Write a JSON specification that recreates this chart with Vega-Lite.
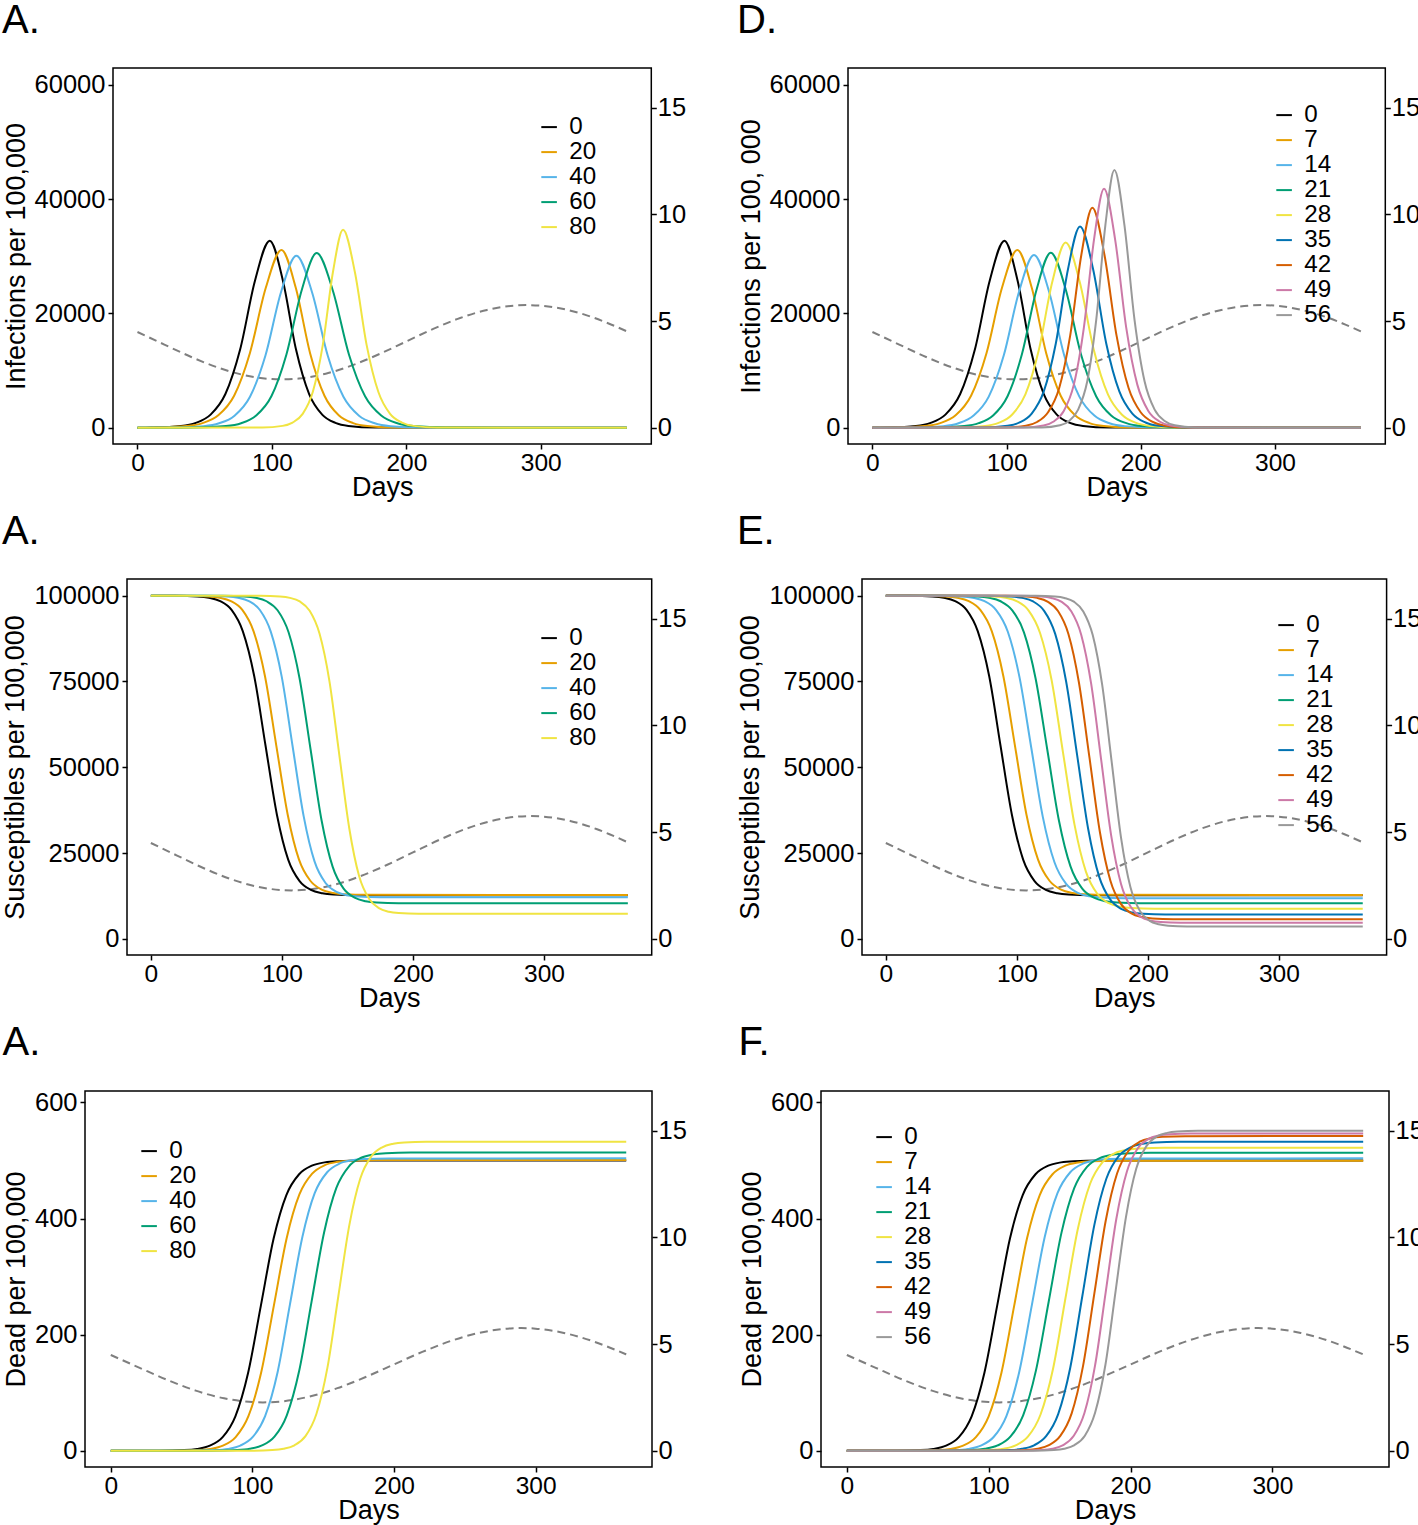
{
"$schema":"https://vega.github.io/schema/vega-lite/v6.json",
"background":"white",
"padding":{"left":0,"top":0,"right":0,"bottom":0},
"config":{
 "font":"Liberation Sans",
 "view":{"stroke":"black","strokeWidth":1.5},
 "axis":{"grid":false,"domain":false,"tickColor":"black","tickWidth":1.5,"tickSize":5,"labelColor":"black","titleFontSize":27,"titleFontWeight":"normal","titleColor":"black"},
 "axisX":{"labelFontSize":24.5,"labelPadding":2,"titlePadding":0},
 "axisLeft":{"labelFontSize":25.5,"labelPadding":3,"titlePadding":4},
 "axisRight":{"labelFontSize":25.5,"labelPadding":1},
 "legend":{"symbolType":"stroke","symbolStrokeWidth":2,"symbolSize":243,"labelFontSize":24.2,"labelColor":"black","labelOffset":8,"rowPadding":0,"padding":0,"title":null},
 "title":{"fontSize":40,"fontWeight":"normal","anchor":"start","frame":"bounds","color":"black","offset":27}
},
"datasets":{
"T":[{"d":0,"t":4.49},{"d":20,"t":3.90},{"d":40,"t":3.32},{"d":60,"t":2.82},{"d":80,"t":2.46},{"d":100,"t":2.284},{"d":107.5,"t":2.27},{"d":120,"t":2.31},{"d":140,"t":2.536},{"d":160,"t":2.935},{"d":180,"t":3.458},{"d":200,"t":4.047},{"d":220,"t":4.633},{"d":240,"t":5.145},{"d":260,"t":5.523},{"d":280,"t":5.724},{"d":290,"t":5.75},{"d":300,"t":5.724},{"d":320,"t":5.523},{"d":340,"t":5.145},{"d":350,"t":4.90},{"d":364,"t":4.519}],
"S":[{"x":0}],
"A":[
{"s":"0","d":0,"v":0},{"s":"0","d":10.4,"v":44},{"s":"0","d":32.4,"v":324},{"s":"0","d":43.4,"v":870},{"s":"0","d":54.4,"v":2313},{"s":"0","d":65.4,"v":5912},{"s":"0","d":76.4,"v":13742},{"s":"0","d":87.4,"v":25731},{"s":"0","d":98.4,"v":32720},{"s":"0","d":108.2,"v":25731},{"s":"0","d":117.9,"v":13742},{"s":"0","d":127.7,"v":5912},{"s":"0","d":137.4,"v":2313},{"s":"0","d":147.2,"v":870},{"s":"0","d":156.9,"v":324},{"s":"0","d":176.4,"v":44},{"s":"0","d":364,"v":0},
{"s":"20","d":0,"v":0},{"s":"20","d":13.1,"v":40},{"s":"20","d":36.6,"v":308},{"s":"20","d":48.4,"v":827},{"s":"20","d":60.1,"v":2198},{"s":"20","d":71.9,"v":5618},{"s":"20","d":83.6,"v":13058},{"s":"20","d":95.4,"v":24449},{"s":"20","d":107.1,"v":31090},{"s":"20","d":117.8,"v":24449},{"s":"20","d":128.4,"v":13058},{"s":"20","d":139.1,"v":5618},{"s":"20","d":149.7,"v":2198},{"s":"20","d":160.4,"v":827},{"s":"20","d":171.0,"v":308},{"s":"20","d":192.3,"v":40},{"s":"20","d":364,"v":0},
{"s":"40","d":0,"v":0},{"s":"40","d":26.2,"v":39},{"s":"40","d":49.2,"v":298},{"s":"40","d":60.7,"v":801},{"s":"40","d":72.2,"v":2128},{"s":"40","d":83.7,"v":5439},{"s":"40","d":95.2,"v":12642},{"s":"40","d":106.7,"v":23671},{"s":"40","d":118.2,"v":30100},{"s":"40","d":129.9,"v":23671},{"s":"40","d":141.5,"v":12642},{"s":"40","d":153.2,"v":5439},{"s":"40","d":164.8,"v":2128},{"s":"40","d":176.5,"v":801},{"s":"40","d":188.1,"v":298},{"s":"40","d":211.4,"v":39},{"s":"40","d":364,"v":0},
{"s":"60","d":0,"v":0},{"s":"60","d":43.3,"v":40},{"s":"60","d":65.8,"v":303},{"s":"60","d":77.1,"v":813},{"s":"60","d":88.3,"v":2161},{"s":"60","d":99.6,"v":5522},{"s":"60","d":110.8,"v":12835},{"s":"60","d":122.1,"v":24032},{"s":"60","d":133.3,"v":30560},{"s":"60","d":145.3,"v":24032},{"s":"60","d":157.3,"v":12835},{"s":"60","d":169.3,"v":5522},{"s":"60","d":181.3,"v":2161},{"s":"60","d":193.3,"v":813},{"s":"60","d":205.3,"v":303},{"s":"60","d":229.3,"v":40},{"s":"60","d":364,"v":0},
{"s":"80","d":0,"v":0},{"s":"80","d":92.9,"v":45},{"s":"80","d":107.9,"v":343},{"s":"80","d":115.4,"v":922},{"s":"80","d":122.9,"v":2450},{"s":"80","d":130.4,"v":6261},{"s":"80","d":137.9,"v":14553},{"s":"80","d":145.4,"v":27249},{"s":"80","d":152.9,"v":34650},{"s":"80","d":161.7,"v":27249},{"s":"80","d":170.4,"v":14553},{"s":"80","d":179.2,"v":6261},{"s":"80","d":187.9,"v":2450},{"s":"80","d":196.7,"v":922},{"s":"80","d":205.4,"v":343},{"s":"80","d":222.9,"v":45},{"s":"80","d":364,"v":0}
],
"D":[
{"s":"0","d":0,"v":0},{"s":"0","d":10.4,"v":44},{"s":"0","d":32.4,"v":324},{"s":"0","d":43.4,"v":870},{"s":"0","d":54.4,"v":2313},{"s":"0","d":65.4,"v":5912},{"s":"0","d":76.4,"v":13742},{"s":"0","d":87.4,"v":25731},{"s":"0","d":98.4,"v":32720},{"s":"0","d":108.2,"v":25731},{"s":"0","d":117.9,"v":13742},{"s":"0","d":127.7,"v":5912},{"s":"0","d":137.4,"v":2313},{"s":"0","d":147.2,"v":870},{"s":"0","d":156.9,"v":324},{"s":"0","d":176.4,"v":44},{"s":"0","d":364,"v":0},
{"s":"7","d":0,"v":0},{"s":"7","d":16.0,"v":40},{"s":"7","d":39.0,"v":308},{"s":"7","d":50.5,"v":827},{"s":"7","d":62.0,"v":2198},{"s":"7","d":73.5,"v":5618},{"s":"7","d":85.0,"v":13058},{"s":"7","d":96.5,"v":24449},{"s":"7","d":108.0,"v":31090},{"s":"7","d":118.8,"v":24449},{"s":"7","d":129.5,"v":13058},{"s":"7","d":140.3,"v":5618},{"s":"7","d":151.0,"v":2198},{"s":"7","d":161.8,"v":827},{"s":"7","d":172.5,"v":308},{"s":"7","d":194.0,"v":40},{"s":"7","d":364,"v":0},
{"s":"14","d":0,"v":0},{"s":"14","d":30.4,"v":39},{"s":"14","d":52.9,"v":299},{"s":"14","d":64.2,"v":804},{"s":"14","d":75.4,"v":2137},{"s":"14","d":86.7,"v":5461},{"s":"14","d":97.9,"v":12692},{"s":"14","d":109.2,"v":23765},{"s":"14","d":120.4,"v":30220},{"s":"14","d":131.7,"v":23765},{"s":"14","d":142.9,"v":12692},{"s":"14","d":154.2,"v":5461},{"s":"14","d":165.4,"v":2137},{"s":"14","d":176.7,"v":804},{"s":"14","d":187.9,"v":299},{"s":"14","d":210.4,"v":39},{"s":"14","d":364,"v":0},
{"s":"21","d":0,"v":0},{"s":"21","d":46.9,"v":40},{"s":"21","d":68.4,"v":303},{"s":"21","d":79.2,"v":815},{"s":"21","d":89.9,"v":2165},{"s":"21","d":100.7,"v":5533},{"s":"21","d":111.4,"v":12860},{"s":"21","d":122.2,"v":24080},{"s":"21","d":132.9,"v":30620},{"s":"21","d":144.2,"v":24080},{"s":"21","d":155.4,"v":12860},{"s":"21","d":166.7,"v":5533},{"s":"21","d":177.9,"v":2165},{"s":"21","d":189.2,"v":815},{"s":"21","d":200.4,"v":303},{"s":"21","d":222.9,"v":40},{"s":"21","d":364,"v":0},
{"s":"28","d":0,"v":0},{"s":"28","d":64.0,"v":42},{"s":"28","d":84.0,"v":321},{"s":"28","d":94.0,"v":863},{"s":"28","d":104.0,"v":2293},{"s":"28","d":114.0,"v":5860},{"s":"28","d":124.0,"v":13621},{"s":"28","d":134.0,"v":25503},{"s":"28","d":144.0,"v":32430},{"s":"28","d":154.5,"v":25503},{"s":"28","d":165.0,"v":13621},{"s":"28","d":175.5,"v":5860},{"s":"28","d":186.0,"v":2293},{"s":"28","d":196.5,"v":863},{"s":"28","d":207.0,"v":321},{"s":"28","d":228.0,"v":42},{"s":"28","d":364,"v":0},
{"s":"35","d":0,"v":0},{"s":"35","d":82.7,"v":46},{"s":"35","d":100.7,"v":349},{"s":"35","d":109.7,"v":937},{"s":"35","d":118.7,"v":2491},{"s":"35","d":127.7,"v":6366},{"s":"35","d":136.7,"v":14797},{"s":"35","d":145.7,"v":27705},{"s":"35","d":154.7,"v":35230},{"s":"35","d":164.5,"v":27705},{"s":"35","d":174.2,"v":14797},{"s":"35","d":184.0,"v":6366},{"s":"35","d":193.7,"v":2491},{"s":"35","d":203.5,"v":937},{"s":"35","d":213.2,"v":349},{"s":"35","d":232.7,"v":46},{"s":"35","d":364,"v":0},
{"s":"42","d":0,"v":0},{"s":"42","d":97.9,"v":50},{"s":"42","d":114.4,"v":381},{"s":"42","d":122.7,"v":1024},{"s":"42","d":130.9,"v":2722},{"s":"42","d":139.2,"v":6957},{"s":"42","d":147.4,"v":16170},{"s":"42","d":155.7,"v":30276},{"s":"42","d":163.9,"v":38500},{"s":"42","d":172.9,"v":30276},{"s":"42","d":181.9,"v":16170},{"s":"42","d":190.9,"v":6957},{"s":"42","d":199.9,"v":2722},{"s":"42","d":208.9,"v":1024},{"s":"42","d":217.9,"v":381},{"s":"42","d":235.9,"v":50},{"s":"42","d":364,"v":0},
{"s":"49","d":0,"v":0},{"s":"49","d":112.6,"v":54},{"s":"49","d":127.6,"v":414},{"s":"49","d":135.1,"v":1112},{"s":"49","d":142.6,"v":2957},{"s":"49","d":150.1,"v":7557},{"s":"49","d":157.6,"v":17564},{"s":"49","d":165.1,"v":32887},{"s":"49","d":172.6,"v":41820},{"s":"49","d":180.9,"v":32887},{"s":"49","d":189.1,"v":17564},{"s":"49","d":197.4,"v":7557},{"s":"49","d":205.6,"v":2957},{"s":"49","d":213.9,"v":1112},{"s":"49","d":222.1,"v":414},{"s":"49","d":238.6,"v":54},{"s":"49","d":364,"v":0},
{"s":"56","d":0,"v":0},{"s":"56","d":126.3,"v":59},{"s":"56","d":139.8,"v":446},{"s":"56","d":146.6,"v":1199},{"s":"56","d":153.3,"v":3188},{"s":"56","d":160.1,"v":8148},{"s":"56","d":166.8,"v":18938},{"s":"56","d":173.6,"v":35459},{"s":"56","d":180.3,"v":45090},{"s":"56","d":187.8,"v":35459},{"s":"56","d":195.3,"v":18938},{"s":"56","d":202.8,"v":8148},{"s":"56","d":210.3,"v":3188},{"s":"56","d":217.8,"v":1199},{"s":"56","d":225.3,"v":446},{"s":"56","d":240.3,"v":59},{"s":"56","d":364,"v":0}
],
"B":[
{"s":"0","d":0,"v":100000},{"s":"0","d":18.3,"v":99974},{"s":"0","d":35.6,"v":99782},{"s":"0","d":44.3,"v":99415},{"s":"0","d":52.9,"v":98429},{"s":"0","d":61.6,"v":95862},{"s":"0","d":70.2,"v":89611},{"s":"0","d":78.9,"v":76516},{"s":"0","d":87.5,"v":56350},{"s":"0","d":96.2,"v":36184},{"s":"0","d":104.8,"v":23089},{"s":"0","d":113.5,"v":16838},{"s":"0","d":122.1,"v":14271},{"s":"0","d":130.8,"v":13285},{"s":"0","d":139.4,"v":12918},{"s":"0","d":156.7,"v":12726},{"s":"0","d":364,"v":12700},
{"s":"20","d":0,"v":100000},{"s":"20","d":26.5,"v":99974},{"s":"20","d":43.8,"v":99782},{"s":"20","d":52.5,"v":99416},{"s":"20","d":61.1,"v":98430},{"s":"20","d":69.8,"v":95867},{"s":"20","d":78.4,"v":89623},{"s":"20","d":87.1,"v":76543},{"s":"20","d":95.7,"v":56400},{"s":"20","d":104.4,"v":36257},{"s":"20","d":113.0,"v":23177},{"s":"20","d":121.7,"v":16933},{"s":"20","d":130.3,"v":14370},{"s":"20","d":139.0,"v":13384},{"s":"20","d":147.6,"v":13018},{"s":"20","d":164.9,"v":12826},{"s":"20","d":364,"v":12800},
{"s":"40","d":0,"v":100000},{"s":"40","d":41.4,"v":99974},{"s":"40","d":58.1,"v":99780},{"s":"40","d":66.5,"v":99411},{"s":"40","d":74.8,"v":98418},{"s":"40","d":83.2,"v":95835},{"s":"40","d":91.5,"v":89542},{"s":"40","d":99.9,"v":76360},{"s":"40","d":108.2,"v":56060},{"s":"40","d":116.6,"v":35760},{"s":"40","d":124.9,"v":22578},{"s":"40","d":133.3,"v":16285},{"s":"40","d":141.6,"v":13702},{"s":"40","d":150.0,"v":12709},{"s":"40","d":158.3,"v":12340},{"s":"40","d":175.0,"v":12146},{"s":"40","d":364,"v":12120},
{"s":"60","d":0,"v":100000},{"s":"60","d":54.7,"v":99973},{"s":"60","d":71.5,"v":99776},{"s":"60","d":79.9,"v":99399},{"s":"60","d":88.3,"v":98387},{"s":"60","d":96.7,"v":95751},{"s":"60","d":105.1,"v":89334},{"s":"60","d":113.5,"v":75890},{"s":"60","d":121.9,"v":55185},{"s":"60","d":130.3,"v":34480},{"s":"60","d":138.7,"v":21036},{"s":"60","d":147.1,"v":14619},{"s":"60","d":155.5,"v":11983},{"s":"60","d":163.9,"v":10971},{"s":"60","d":172.3,"v":10594},{"s":"60","d":189.1,"v":10397},{"s":"60","d":364,"v":10370},
{"s":"80","d":0,"v":100000},{"s":"80","d":83.4,"v":99972},{"s":"80","d":98.5,"v":99768},{"s":"80","d":106.1,"v":99379},{"s":"80","d":113.6,"v":98331},{"s":"80","d":121.2,"v":95605},{"s":"80","d":128.7,"v":88966},{"s":"80","d":136.3,"v":75058},{"s":"80","d":143.8,"v":53640},{"s":"80","d":151.4,"v":32222},{"s":"80","d":158.9,"v":18314},{"s":"80","d":166.5,"v":11675},{"s":"80","d":174.0,"v":8949},{"s":"80","d":181.6,"v":7901},{"s":"80","d":189.1,"v":7512},{"s":"80","d":204.2,"v":7308},{"s":"80","d":364,"v":7280}
],
"E":[
{"s":"0","d":0,"v":100000},{"s":"0","d":18.3,"v":99974},{"s":"0","d":35.6,"v":99782},{"s":"0","d":44.3,"v":99415},{"s":"0","d":52.9,"v":98429},{"s":"0","d":61.6,"v":95862},{"s":"0","d":70.2,"v":89611},{"s":"0","d":78.9,"v":76516},{"s":"0","d":87.5,"v":56350},{"s":"0","d":96.2,"v":36184},{"s":"0","d":104.8,"v":23089},{"s":"0","d":113.5,"v":16838},{"s":"0","d":122.1,"v":14271},{"s":"0","d":130.8,"v":13285},{"s":"0","d":139.4,"v":12918},{"s":"0","d":156.7,"v":12726},{"s":"0","d":364,"v":12700},
{"s":"7","d":0,"v":100000},{"s":"7","d":28.1,"v":99974},{"s":"7","d":45.7,"v":99782},{"s":"7","d":54.5,"v":99416},{"s":"7","d":63.3,"v":98430},{"s":"7","d":72.1,"v":95867},{"s":"7","d":80.9,"v":89623},{"s":"7","d":89.7,"v":76543},{"s":"7","d":98.5,"v":56400},{"s":"7","d":107.3,"v":36257},{"s":"7","d":116.1,"v":23177},{"s":"7","d":124.9,"v":16933},{"s":"7","d":133.7,"v":14370},{"s":"7","d":142.5,"v":13384},{"s":"7","d":151.3,"v":13018},{"s":"7","d":168.9,"v":12826},{"s":"7","d":364,"v":12800},
{"s":"14","d":0,"v":100000},{"s":"14","d":39.7,"v":99974},{"s":"14","d":57.5,"v":99780},{"s":"14","d":66.4,"v":99409},{"s":"14","d":75.3,"v":98413},{"s":"14","d":84.2,"v":95821},{"s":"14","d":93.1,"v":89508},{"s":"14","d":102.0,"v":76282},{"s":"14","d":110.9,"v":55915},{"s":"14","d":119.8,"v":35548},{"s":"14","d":128.7,"v":22322},{"s":"14","d":137.6,"v":16009},{"s":"14","d":146.5,"v":13417},{"s":"14","d":155.4,"v":12421},{"s":"14","d":164.3,"v":12050},{"s":"14","d":182.1,"v":11856},{"s":"14","d":364,"v":11830},
{"s":"21","d":0,"v":100000},{"s":"21","d":52.0,"v":99973},{"s":"21","d":69.8,"v":99776},{"s":"21","d":78.7,"v":99399},{"s":"21","d":87.6,"v":98387},{"s":"21","d":96.5,"v":95751},{"s":"21","d":105.4,"v":89334},{"s":"21","d":114.3,"v":75890},{"s":"21","d":123.2,"v":55185},{"s":"21","d":132.1,"v":34480},{"s":"21","d":141.0,"v":21036},{"s":"21","d":149.9,"v":14619},{"s":"21","d":158.8,"v":11983},{"s":"21","d":167.7,"v":10971},{"s":"21","d":176.6,"v":10594},{"s":"21","d":194.4,"v":10397},{"s":"21","d":364,"v":10370},
{"s":"28","d":0,"v":100000},{"s":"28","d":65.2,"v":99973},{"s":"28","d":82.7,"v":99772},{"s":"28","d":91.5,"v":99389},{"s":"28","d":100.2,"v":98357},{"s":"28","d":109.0,"v":95674},{"s":"28","d":117.7,"v":89140},{"s":"28","d":126.5,"v":75451},{"s":"28","d":135.2,"v":54370},{"s":"28","d":144.0,"v":33289},{"s":"28","d":152.7,"v":19600},{"s":"28","d":161.5,"v":13066},{"s":"28","d":170.2,"v":10383},{"s":"28","d":179.0,"v":9351},{"s":"28","d":187.7,"v":8968},{"s":"28","d":205.2,"v":8767},{"s":"28","d":364,"v":8740},
{"s":"35","d":0,"v":100000},{"s":"35","d":78.8,"v":99972},{"s":"35","d":95.6,"v":99768},{"s":"35","d":104.0,"v":99377},{"s":"35","d":112.4,"v":98327},{"s":"35","d":120.8,"v":95596},{"s":"35","d":129.2,"v":88943},{"s":"35","d":137.6,"v":75005},{"s":"35","d":146.0,"v":53540},{"s":"35","d":154.4,"v":32075},{"s":"35","d":162.8,"v":18137},{"s":"35","d":171.2,"v":11484},{"s":"35","d":179.6,"v":8753},{"s":"35","d":188.0,"v":7703},{"s":"35","d":196.4,"v":7312},{"s":"35","d":213.2,"v":7108},{"s":"35","d":364,"v":7080},
{"s":"42","d":0,"v":100000},{"s":"42","d":91.4,"v":99972},{"s":"42","d":107.4,"v":99764},{"s":"42","d":115.4,"v":99368},{"s":"42","d":123.4,"v":98303},{"s":"42","d":131.4,"v":95531},{"s":"42","d":139.4,"v":88779},{"s":"42","d":147.4,"v":74636},{"s":"42","d":155.4,"v":52855},{"s":"42","d":163.4,"v":31074},{"s":"42","d":171.4,"v":16931},{"s":"42","d":179.4,"v":10179},{"s":"42","d":187.4,"v":7407},{"s":"42","d":195.4,"v":6342},{"s":"42","d":203.4,"v":5946},{"s":"42","d":219.4,"v":5738},{"s":"42","d":364,"v":5710},
{"s":"49","d":0,"v":100000},{"s":"49","d":103.5,"v":99971},{"s":"49","d":118.7,"v":99762},{"s":"49","d":126.3,"v":99361},{"s":"49","d":133.9,"v":98284},{"s":"49","d":141.5,"v":95481},{"s":"49","d":149.1,"v":88655},{"s":"49","d":156.7,"v":74354},{"s":"49","d":164.3,"v":52330},{"s":"49","d":171.9,"v":30306},{"s":"49","d":179.5,"v":16005},{"s":"49","d":187.1,"v":9179},{"s":"49","d":194.7,"v":6376},{"s":"49","d":202.3,"v":5299},{"s":"49","d":209.9,"v":4899},{"s":"49","d":225.1,"v":4689},{"s":"49","d":364,"v":4660},
{"s":"56","d":0,"v":100000},{"s":"56","d":114.7,"v":99971},{"s":"56","d":129.1,"v":99759},{"s":"56","d":136.3,"v":99354},{"s":"56","d":143.5,"v":98264},{"s":"56","d":150.7,"v":95430},{"s":"56","d":157.9,"v":88526},{"s":"56","d":165.1,"v":74063},{"s":"56","d":172.3,"v":51790},{"s":"56","d":179.5,"v":29517},{"s":"56","d":186.7,"v":15054},{"s":"56","d":193.9,"v":8150},{"s":"56","d":201.1,"v":5316},{"s":"56","d":208.3,"v":4226},{"s":"56","d":215.5,"v":3821},{"s":"56","d":229.9,"v":3609},{"s":"56","d":364,"v":3580}
],
"C":[
{"s":"0","d":0,"v":0},{"s":"0","d":34,"v":0.15},{"s":"0","d":52,"v":1.25},{"s":"0","d":61,"v":3.35},{"s":"0","d":70,"v":9},{"s":"0","d":79,"v":23.7},{"s":"0","d":88,"v":59.5},{"s":"0","d":97,"v":134.5},{"s":"0","d":106,"v":250},{"s":"0","d":115,"v":365.5},{"s":"0","d":124,"v":440.5},{"s":"0","d":133,"v":476.3},{"s":"0","d":142,"v":491},{"s":"0","d":151,"v":496.7},{"s":"0","d":160,"v":498.8},{"s":"0","d":178,"v":499.9},{"s":"0","d":364,"v":500},
{"s":"20","d":0,"v":0},{"s":"20","d":43.2,"v":0.15},{"s":"20","d":61.2,"v":1.25},{"s":"20","d":70.2,"v":3.36},{"s":"20","d":79.2,"v":9.02},{"s":"20","d":88.2,"v":23.75},{"s":"20","d":97.2,"v":59.6},{"s":"20","d":106.2,"v":134.8},{"s":"20","d":115.2,"v":250.5},{"s":"20","d":124.2,"v":366.2},{"s":"20","d":133.2,"v":441.4},{"s":"20","d":142.2,"v":477.2},{"s":"20","d":151.2,"v":492},{"s":"20","d":160.2,"v":497.6},{"s":"20","d":169.2,"v":499.7},{"s":"20","d":187.2,"v":500.8},{"s":"20","d":364,"v":501},
{"s":"40","d":0,"v":0},{"s":"40","d":56.5,"v":0.15},{"s":"40","d":74,"v":1.26},{"s":"40","d":82.8,"v":3.37},{"s":"40","d":91.5,"v":9.06},{"s":"40","d":100.3,"v":23.87},{"s":"40","d":109,"v":59.93},{"s":"40","d":117.8,"v":135.47},{"s":"40","d":126.5,"v":251.8},{"s":"40","d":135.3,"v":368.13},{"s":"40","d":144,"v":443.67},{"s":"40","d":152.8,"v":479.73},{"s":"40","d":161.5,"v":494.54},{"s":"40","d":170.3,"v":500.23},{"s":"40","d":179,"v":502.34},{"s":"40","d":196.5,"v":503.45},{"s":"40","d":364,"v":503.6},
{"s":"60","d":0,"v":0},{"s":"60","d":71.8,"v":0.15},{"s":"60","d":89.3,"v":1.28},{"s":"60","d":98.1,"v":3.44},{"s":"60","d":106.8,"v":9.25},{"s":"60","d":115.6,"v":24.36},{"s":"60","d":124.3,"v":61.15},{"s":"60","d":133.1,"v":138.24},{"s":"60","d":141.8,"v":256.95},{"s":"60","d":150.6,"v":375.66},{"s":"60","d":159.3,"v":452.75},{"s":"60","d":168.1,"v":489.54},{"s":"60","d":176.8,"v":504.65},{"s":"60","d":185.6,"v":510.46},{"s":"60","d":194.3,"v":512.62},{"s":"60","d":211.8,"v":513.75},{"s":"60","d":364,"v":513.9},
{"s":"80","d":0,"v":0},{"s":"80","d":98.7,"v":0.16},{"s":"80","d":114.2,"v":1.33},{"s":"80","d":122,"v":3.57},{"s":"80","d":129.7,"v":9.58},{"s":"80","d":137.5,"v":25.23},{"s":"80","d":145.2,"v":63.34},{"s":"80","d":153,"v":143.19},{"s":"80","d":160.7,"v":266.15},{"s":"80","d":168.5,"v":389.11},{"s":"80","d":176.2,"v":468.96},{"s":"80","d":184,"v":507.07},{"s":"80","d":191.7,"v":522.72},{"s":"80","d":199.5,"v":528.73},{"s":"80","d":207.2,"v":530.97},{"s":"80","d":222.7,"v":532.14},{"s":"80","d":364,"v":532.3}
],
"F":[
{"s":"0","d":0,"v":0},{"s":"0","d":34,"v":0.15},{"s":"0","d":52,"v":1.25},{"s":"0","d":61,"v":3.35},{"s":"0","d":70,"v":9},{"s":"0","d":79,"v":23.7},{"s":"0","d":88,"v":59.5},{"s":"0","d":97,"v":134.5},{"s":"0","d":106,"v":250},{"s":"0","d":115,"v":365.5},{"s":"0","d":124,"v":440.5},{"s":"0","d":133,"v":476.3},{"s":"0","d":142,"v":491},{"s":"0","d":151,"v":496.7},{"s":"0","d":160,"v":498.8},{"s":"0","d":178,"v":499.9},{"s":"0","d":364,"v":500},
{"s":"7","d":0,"v":0},{"s":"7","d":46,"v":0.15},{"s":"7","d":64,"v":1.25},{"s":"7","d":73,"v":3.35},{"s":"7","d":82,"v":9},{"s":"7","d":91,"v":23.7},{"s":"7","d":100,"v":59.5},{"s":"7","d":109,"v":134.5},{"s":"7","d":118,"v":250},{"s":"7","d":127,"v":365.5},{"s":"7","d":136,"v":440.5},{"s":"7","d":145,"v":476.3},{"s":"7","d":154,"v":491},{"s":"7","d":163,"v":496.5},{"s":"7","d":172,"v":498.5},{"s":"7","d":190,"v":499.4},{"s":"7","d":364,"v":499.5},
{"s":"14","d":0,"v":0},{"s":"14","d":58.5,"v":0.15},{"s":"14","d":76.5,"v":1.26},{"s":"14","d":85.5,"v":3.37},{"s":"14","d":94.5,"v":9.06},{"s":"14","d":103.5,"v":23.87},{"s":"14","d":112.5,"v":59.93},{"s":"14","d":121.5,"v":135.47},{"s":"14","d":130.5,"v":251.8},{"s":"14","d":139.5,"v":368.13},{"s":"14","d":148.5,"v":443.67},{"s":"14","d":157.5,"v":479.73},{"s":"14","d":166.5,"v":494.54},{"s":"14","d":175.5,"v":500.23},{"s":"14","d":184.5,"v":502.34},{"s":"14","d":202.5,"v":503.45},{"s":"14","d":364,"v":503.6},
{"s":"21","d":0,"v":0},{"s":"21","d":70.3,"v":0.15},{"s":"21","d":88.3,"v":1.28},{"s":"21","d":97.3,"v":3.44},{"s":"21","d":106.3,"v":9.24},{"s":"21","d":115.3,"v":24.34},{"s":"21","d":124.3,"v":61.09},{"s":"21","d":133.3,"v":138.1},{"s":"21","d":142.3,"v":256.7},{"s":"21","d":151.3,"v":375.3},{"s":"21","d":160.3,"v":452.3},{"s":"21","d":169.3,"v":489.06},{"s":"21","d":178.3,"v":504.16},{"s":"21","d":187.3,"v":509.96},{"s":"21","d":196.3,"v":512.12},{"s":"21","d":214.3,"v":513.25},{"s":"21","d":364,"v":513.4},
{"s":"28","d":0,"v":0},{"s":"28","d":84,"v":0.16},{"s":"28","d":101.5,"v":1.31},{"s":"28","d":110.3,"v":3.5},{"s":"28","d":119,"v":9.4},{"s":"28","d":127.8,"v":24.74},{"s":"28","d":136.5,"v":62.12},{"s":"28","d":145.3,"v":140.42},{"s":"28","d":154,"v":261},{"s":"28","d":162.8,"v":381.58},{"s":"28","d":171.5,"v":459.88},{"s":"28","d":180.3,"v":497.26},{"s":"28","d":189,"v":512.6},{"s":"28","d":197.8,"v":518.5},{"s":"28","d":206.5,"v":520.7},{"s":"28","d":224,"v":521.84},{"s":"28","d":364,"v":522},
{"s":"35","d":0,"v":0},{"s":"35","d":98,"v":0.16},{"s":"35","d":115,"v":1.33},{"s":"35","d":123.5,"v":3.57},{"s":"35","d":132,"v":9.58},{"s":"35","d":140.5,"v":25.23},{"s":"35","d":149,"v":63.34},{"s":"35","d":157.5,"v":143.19},{"s":"35","d":166,"v":266.15},{"s":"35","d":174.5,"v":389.11},{"s":"35","d":183,"v":468.96},{"s":"35","d":191.5,"v":507.07},{"s":"35","d":200,"v":522.72},{"s":"35","d":208.5,"v":528.73},{"s":"35","d":217,"v":530.97},{"s":"35","d":234,"v":532.14},{"s":"35","d":364,"v":532.3},
{"s":"42","d":0,"v":0},{"s":"42","d":110.5,"v":0.16},{"s":"42","d":126.5,"v":1.36},{"s":"42","d":134.5,"v":3.63},{"s":"42","d":142.5,"v":9.76},{"s":"42","d":150.5,"v":25.69},{"s":"42","d":158.5,"v":64.5},{"s":"42","d":166.5,"v":145.8},{"s":"42","d":174.5,"v":271},{"s":"42","d":182.5,"v":396.2},{"s":"42","d":190.5,"v":477.5},{"s":"42","d":198.5,"v":516.3},{"s":"42","d":206.5,"v":532.24},{"s":"42","d":214.5,"v":538.37},{"s":"42","d":222.5,"v":540.65},{"s":"42","d":238.5,"v":541.84},{"s":"42","d":364,"v":542},
{"s":"49","d":0,"v":0},{"s":"49","d":122.5,"v":0.16},{"s":"49","d":137.5,"v":1.37},{"s":"49","d":145,"v":3.66},{"s":"49","d":152.5,"v":9.84},{"s":"49","d":160,"v":25.91},{"s":"49","d":167.5,"v":65.05},{"s":"49","d":175,"v":147.04},{"s":"49","d":182.5,"v":273.3},{"s":"49","d":190,"v":399.56},{"s":"49","d":197.5,"v":481.55},{"s":"49","d":205,"v":520.69},{"s":"49","d":212.5,"v":536.76},{"s":"49","d":220,"v":542.94},{"s":"49","d":227.5,"v":545.23},{"s":"49","d":242.5,"v":546.44},{"s":"49","d":364,"v":546.6},
{"s":"56","d":0,"v":0},{"s":"56","d":131.5,"v":0.17},{"s":"56","d":146,"v":1.38},{"s":"56","d":153.3,"v":3.69},{"s":"56","d":160.5,"v":9.92},{"s":"56","d":167.8,"v":26.13},{"s":"56","d":175,"v":65.59},{"s":"56","d":182.3,"v":148.27},{"s":"56","d":189.5,"v":275.6},{"s":"56","d":196.8,"v":402.93},{"s":"56","d":204,"v":485.61},{"s":"56","d":211.3,"v":525.07},{"s":"56","d":218.5,"v":541.28},{"s":"56","d":225.8,"v":547.51},{"s":"56","d":233,"v":549.82},{"s":"56","d":247.5,"v":551.03},{"s":"56","d":364,"v":551.2}
]
},
"concat":[
{"hconcat":[
 {"width":1,"height":1,"view":{"stroke":null},"data":{"name":"S"},"mark":{"type":"point","opacity":0,"size":0,"strokeWidth":0},"encoding":{"x":{"field":"x","type":"quantitative","axis":null},"y":{"field":"x","type":"quantitative","axis":null}}},
 {"hconcat":[
 {"width":538.3,"height":376,"title":{"text":"A."},
  "layer":[
   {"data":{"name":"T"},"mark":{"type":"line","interpolate":"monotone","strokeDash":[8,5],"color":"#7f7f7f","strokeWidth":2},
    "encoding":{"x":{"field":"d","type":"quantitative","scale":{"domain":[-18.2,382.2],"nice":false,"zero":false},"axis":{"values":[0,100,200,300],"title":"Days"}},
     "y":{"field":"t","type":"quantitative","scale":{"domain":[-0.757,16.855],"nice":false,"zero":false},"axis":{"orient":"right","values":[0,5,10,15],"title":null}}}},
   {"data":{"name":"A"},"mark":{"type":"line","interpolate":"monotone","strokeWidth":2},
    "encoding":{"x":{"field":"d","type":"quantitative","scale":{"domain":[-18.2,382.2],"nice":false,"zero":false},"axis":{"values":[0,100,200,300],"title":"Days"}},
     "y":{"field":"v","type":"quantitative","scale":{"domain":[-2827,62937],"nice":false,"zero":false},"axis":{"orient":"left","values":[0,20000,40000,60000],"format":"d","title":"Infections per 100,000"}},
     "color":{"field":"s","type":"nominal","scale":{"domain":["0","20","40","60","80"],"range":["#000000","#E69F00","#56B4E9","#009E73","#F0E442"]},"legend":{"orient":"none","legendX":424,"legendY":47}}}}
  ],
  "resolve":{"scale":{"y":"independent"}}},
 {"width":537.3,"height":376,"title":{"text":"D."},
  "layer":[
   {"data":{"name":"T"},"mark":{"type":"line","interpolate":"monotone","strokeDash":[8,5],"color":"#7f7f7f","strokeWidth":2},
    "encoding":{"x":{"field":"d","type":"quantitative","scale":{"domain":[-18.2,382.2],"nice":false,"zero":false},"axis":{"values":[0,100,200,300],"title":"Days"}},
     "y":{"field":"t","type":"quantitative","scale":{"domain":[-0.757,16.855],"nice":false,"zero":false},"axis":{"orient":"right","values":[0,5,10,15],"title":null}}}},
   {"data":{"name":"D"},"mark":{"type":"line","interpolate":"monotone","strokeWidth":2},
    "encoding":{"x":{"field":"d","type":"quantitative","scale":{"domain":[-18.2,382.2],"nice":false,"zero":false},"axis":{"values":[0,100,200,300],"title":"Days"}},
     "y":{"field":"v","type":"quantitative","scale":{"domain":[-2827,62937],"nice":false,"zero":false},"axis":{"orient":"left","values":[0,20000,40000,60000],"format":"d","title":"Infections per 100, 000"}},
     "color":{"field":"s","type":"nominal","scale":{"domain":["0","7","14","21","28","35","42","49","56"],"range":["#000000","#E69F00","#56B4E9","#009E73","#F0E442","#0072B2","#D55E00","#CC79A7","#999999"]},"legend":{"orient":"none","legendX":424,"legendY":35}}}}
  ],
  "resolve":{"scale":{"y":"independent"}}}
 ],"spacing":49,"resolve":{"scale":{"color":"independent"},"legend":{"color":"independent"}}}
 ],"spacing":0,"resolve":{"scale":{"color":"independent"},"legend":{"color":"independent"}}},
{"hconcat":[
 {"width":1,"height":1,"view":{"stroke":null},"data":{"name":"S"},"mark":{"type":"point","opacity":0,"size":0,"strokeWidth":0},"encoding":{"x":{"field":"x","type":"quantitative","axis":null},"y":{"field":"x","type":"quantitative","axis":null}}},
 {"hconcat":[
 {"width":524.7,"height":376,"title":{"text":"A."},
  "layer":[
   {"data":{"name":"T"},"mark":{"type":"line","interpolate":"monotone","strokeDash":[8,5],"color":"#7f7f7f","strokeWidth":2},
    "encoding":{"x":{"field":"d","type":"quantitative","scale":{"domain":[-18.2,382.2],"nice":false,"zero":false},"axis":{"values":[0,100,200,300],"title":"Days"}},
     "y":{"field":"t","type":"quantitative","scale":{"domain":[-0.757,16.855],"nice":false,"zero":false},"axis":{"orient":"right","values":[0,5,10,15],"title":null}}}},
   {"data":{"name":"B"},"mark":{"type":"line","interpolate":"monotone","strokeWidth":2},
    "encoding":{"x":{"field":"d","type":"quantitative","scale":{"domain":[-18.2,382.2],"nice":false,"zero":false},"axis":{"values":[0,100,200,300],"title":"Days"}},
     "y":{"field":"v","type":"quantitative","scale":{"domain":[-4710,104872],"nice":false,"zero":false},"axis":{"orient":"left","values":[0,25000,50000,75000,100000],"format":"d","title":"Susceptibles per 100,000"}},
     "color":{"field":"s","type":"nominal","scale":{"domain":["0","20","40","60","80"],"range":["#000000","#E69F00","#56B4E9","#009E73","#F0E442"]},"legend":{"orient":"none","legendX":410,"legendY":47}}}}
  ],
  "resolve":{"scale":{"y":"independent"}}},
 {"width":524.6,"height":376,"title":{"text":"E."},
  "layer":[
   {"data":{"name":"T"},"mark":{"type":"line","interpolate":"monotone","strokeDash":[8,5],"color":"#7f7f7f","strokeWidth":2},
    "encoding":{"x":{"field":"d","type":"quantitative","scale":{"domain":[-18.2,382.2],"nice":false,"zero":false},"axis":{"values":[0,100,200,300],"title":"Days"}},
     "y":{"field":"t","type":"quantitative","scale":{"domain":[-0.757,16.855],"nice":false,"zero":false},"axis":{"orient":"right","values":[0,5,10,15],"title":null}}}},
   {"data":{"name":"E"},"mark":{"type":"line","interpolate":"monotone","strokeWidth":2},
    "encoding":{"x":{"field":"d","type":"quantitative","scale":{"domain":[-18.2,382.2],"nice":false,"zero":false},"axis":{"values":[0,100,200,300],"title":"Days"}},
     "y":{"field":"v","type":"quantitative","scale":{"domain":[-4710,104872],"nice":false,"zero":false},"axis":{"orient":"left","values":[0,25000,50000,75000,100000],"format":"d","title":"Susceptibles per 100,000"}},
     "color":{"field":"s","type":"nominal","scale":{"domain":["0","7","14","21","28","35","42","49","56"],"range":["#000000","#E69F00","#56B4E9","#009E73","#F0E442","#0072B2","#D55E00","#CC79A7","#999999"]},"legend":{"orient":"none","legendX":412,"legendY":34}}}}
  ],
  "resolve":{"scale":{"y":"independent"}}}
 ],"spacing":49,"resolve":{"scale":{"color":"independent"},"legend":{"color":"independent"}}}
 ],"spacing":0,"resolve":{"scale":{"color":"independent"},"legend":{"color":"independent"}}},
{"hconcat":[
 {"width":1,"height":1,"view":{"stroke":null},"data":{"name":"S"},"mark":{"type":"point","opacity":0,"size":0,"strokeWidth":0},"encoding":{"x":{"field":"x","type":"quantitative","axis":null},"y":{"field":"x","type":"quantitative","axis":null}}},
 {"hconcat":[
 {"width":567,"height":376,"title":{"text":"A."},
  "layer":[
   {"data":{"name":"T"},"mark":{"type":"line","interpolate":"monotone","strokeDash":[8,5],"color":"#7f7f7f","strokeWidth":2},
    "encoding":{"x":{"field":"d","type":"quantitative","scale":{"domain":[-18.2,382.2],"nice":false,"zero":false},"axis":{"values":[0,100,200,300],"title":"Days"}},
     "y":{"field":"t","type":"quantitative","scale":{"domain":[-0.757,16.855],"nice":false,"zero":false},"axis":{"orient":"right","values":[0,5,10,15],"title":null}}}},
   {"data":{"name":"C"},"mark":{"type":"line","interpolate":"monotone","strokeWidth":2},
    "encoding":{"x":{"field":"d","type":"quantitative","scale":{"domain":[-18.2,382.2],"nice":false,"zero":false},"axis":{"values":[0,100,200,300],"title":"Days"}},
     "y":{"field":"v","type":"quantitative","scale":{"domain":[-27.83,619.6],"nice":false,"zero":false},"axis":{"orient":"left","values":[0,200,400,600],"format":"d","title":"Dead per 100,000"}},
     "color":{"field":"s","type":"nominal","scale":{"domain":["0","20","40","60","80"],"range":["#000000","#E69F00","#56B4E9","#009E73","#F0E442"]},"legend":{"orient":"none","legendX":52,"legendY":48}}}}
  ],
  "resolve":{"scale":{"y":"independent"}}},
 {"width":568,"height":376,"title":{"text":"F."},
  "layer":[
   {"data":{"name":"T"},"mark":{"type":"line","interpolate":"monotone","strokeDash":[8,5],"color":"#7f7f7f","strokeWidth":2},
    "encoding":{"x":{"field":"d","type":"quantitative","scale":{"domain":[-18.2,382.2],"nice":false,"zero":false},"axis":{"values":[0,100,200,300],"title":"Days"}},
     "y":{"field":"t","type":"quantitative","scale":{"domain":[-0.757,16.855],"nice":false,"zero":false},"axis":{"orient":"right","values":[0,5,10,15],"title":null}}}},
   {"data":{"name":"F"},"mark":{"type":"line","interpolate":"monotone","strokeWidth":2},
    "encoding":{"x":{"field":"d","type":"quantitative","scale":{"domain":[-18.2,382.2],"nice":false,"zero":false},"axis":{"values":[0,100,200,300],"title":"Days"}},
     "y":{"field":"v","type":"quantitative","scale":{"domain":[-27.83,619.6],"nice":false,"zero":false},"axis":{"orient":"left","values":[0,200,400,600],"format":"d","title":"Dead per 100,000"}},
     "color":{"field":"s","type":"nominal","scale":{"domain":["0","7","14","21","28","35","42","49","56"],"range":["#000000","#E69F00","#56B4E9","#009E73","#F0E442","#0072B2","#D55E00","#CC79A7","#999999"]},"legend":{"orient":"none","legendX":51,"legendY":34}}}}
  ],
  "resolve":{"scale":{"y":"independent"}}}
 ],"spacing":49,"resolve":{"scale":{"color":"independent"},"legend":{"color":"independent"}}}
 ],"spacing":0,"resolve":{"scale":{"color":"independent"},"legend":{"color":"independent"}}}
],
"columns":1,
"align":"none",
"spacing":9,
"resolve":{"scale":{"color":"independent"},"legend":{"color":"independent"}}
}
